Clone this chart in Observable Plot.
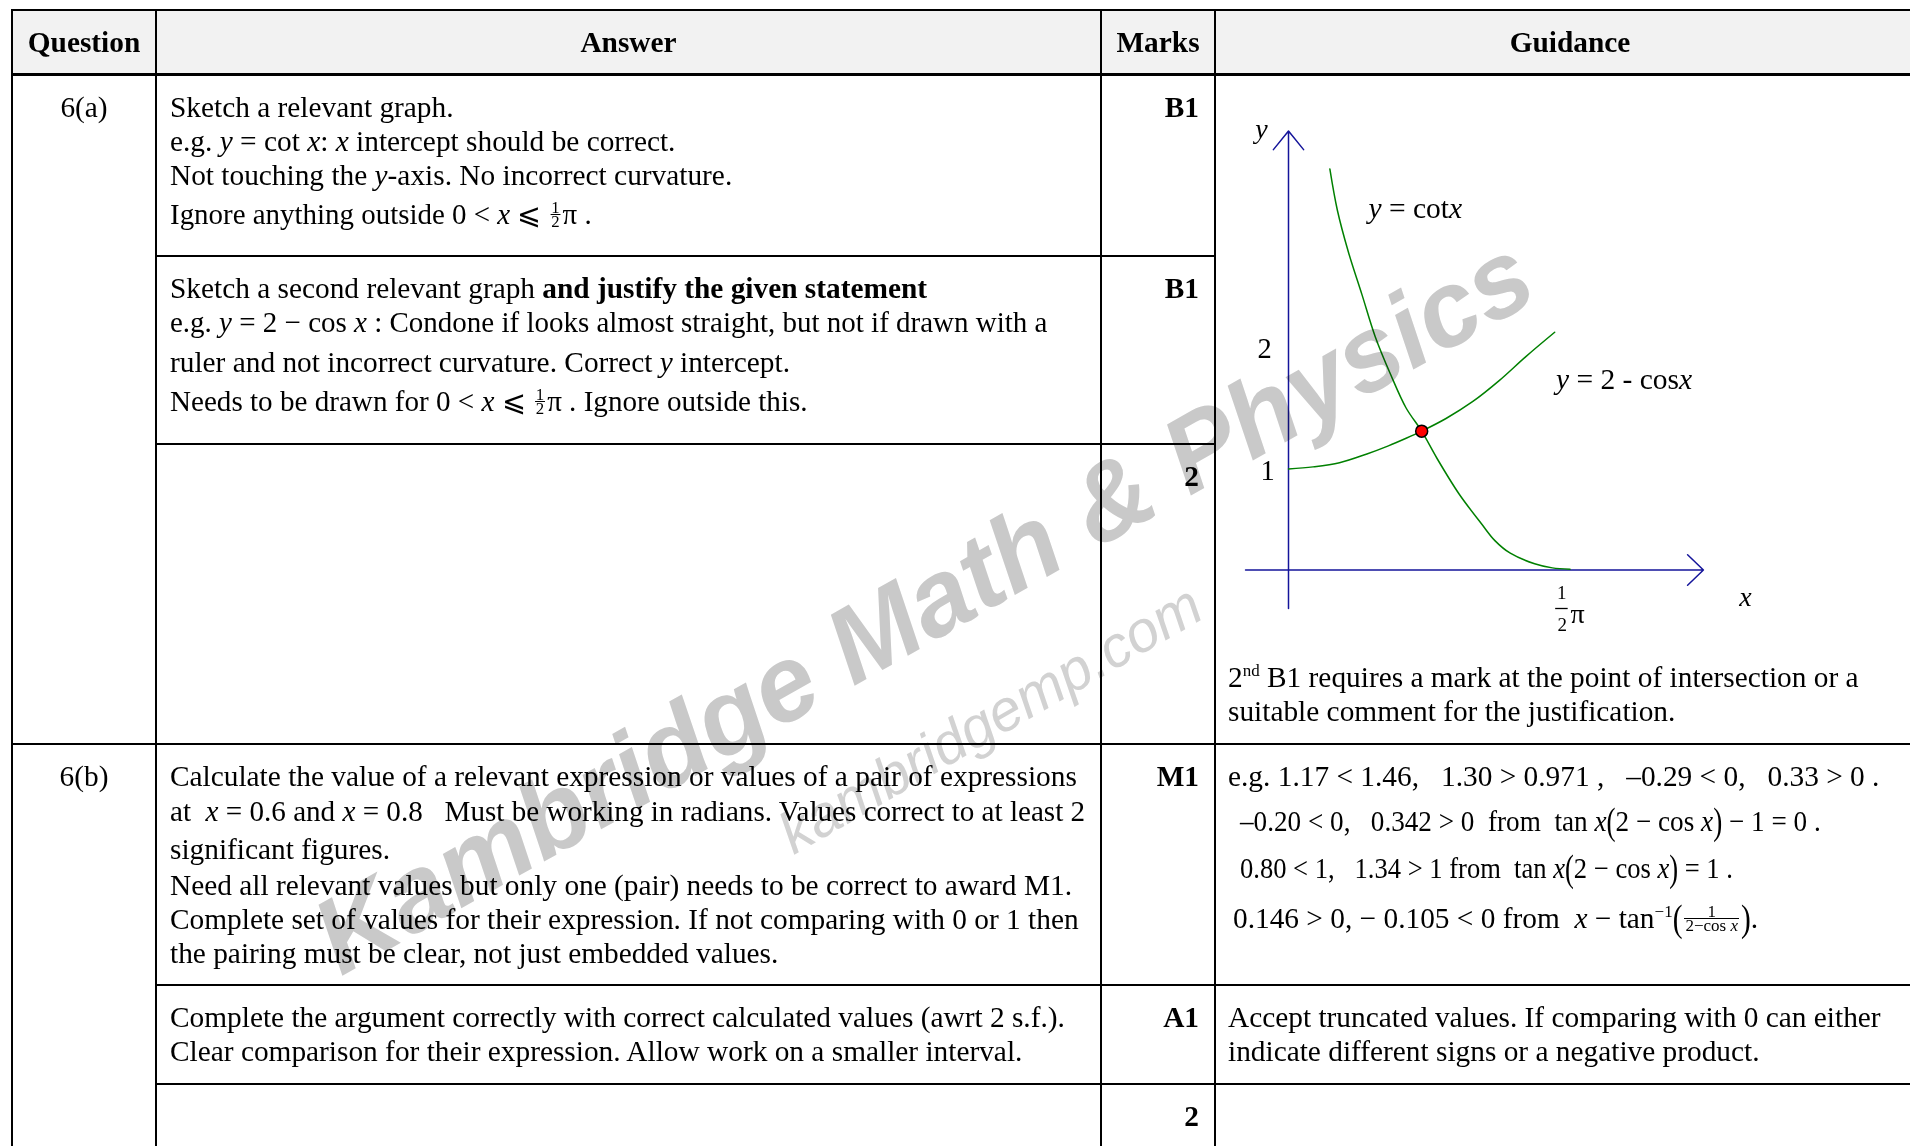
<!DOCTYPE html>
<html>
<head>
<meta charset="utf-8">
<script src="https://cdn.jsdelivr.net/npm/d3@7"></script>
<script src="https://cdn.jsdelivr.net/npm/@observablehq/plot@0.6"></script>
<style>
html,body{margin:0;padding:0;background:#fff;}
#page{position:relative;width:1910px;height:1146px;overflow:hidden;background:#fff;}
.hl{position:absolute;height:2px;background:#000;}
.vl{position:absolute;width:2px;background:#000;}
.t{position:absolute;font-family:"Liberation Serif","Times New Roman",serif;font-size:29.35px;line-height:33px;height:33px;white-space:pre;color:#000;}
.b{font-weight:bold;}
.r{text-align:right;}
.c{text-align:center;}
.fr{display:inline-block;vertical-align:middle;font-size:17px;line-height:13px;text-align:center;position:relative;top:-3px;margin:0 2px;}
.fr>span{display:block;padding:0 1px;}
.fr>span.n{border-bottom:1.3px solid #000;}
.bp{display:inline-block;transform:scale(1,1.3);}
.sq{transform-origin:0 50%;}
sup{font-size:17px;line-height:0;vertical-align:11px;}
#plotbox{position:absolute;left:1218px;top:77px;}
#wm{position:absolute;left:0;top:0;mix-blend-mode:multiply;pointer-events:none;}
</style>
</head>
<body>
<div id="page">
  <!-- header background -->
  <div style="position:absolute;left:12px;top:10px;width:1912px;height:64px;background:#f2f2f2;"></div>

  <!-- horizontal rules -->
  <div class="hl" style="left:12px;top:9px;width:1912px;height:1.5px;"></div>
  <div class="hl" style="left:12px;top:73px;width:1912px;height:3px;"></div>
  <div class="hl" style="left:156px;top:255px;width:1060px;"></div>
  <div class="hl" style="left:156px;top:443px;width:1060px;"></div>
  <div class="hl" style="left:12px;top:743px;width:1912px;"></div>
  <div class="hl" style="left:156px;top:984px;width:1768px;"></div>
  <div class="hl" style="left:156px;top:1083px;width:1768px;"></div>

  <!-- vertical rules -->
  <div class="vl" style="left:11px;top:9px;height:1140px;"></div>
  <div class="vl" style="left:155px;top:9px;height:1140px;"></div>
  <div class="vl" style="left:1100px;top:9px;height:1140px;"></div>
  <div class="vl" style="left:1214px;top:9px;height:1140px;"></div>

  <!-- header -->
  <div class="t b c" style="left:12px;width:144px;top:26px;">Question</div>
  <div class="t b c" style="left:156px;width:945px;top:26px;">Answer</div>
  <div class="t b c" style="left:1101px;width:114px;top:26px;">Marks</div>
  <div class="t b c" style="left:1216px;width:708px;top:26px;">Guidance</div>

  <!-- question column -->
  <div class="t c" style="left:12px;width:144px;top:91px;">6(a)</div>
  <div class="t c" style="left:12px;width:144px;top:760px;">6(b)</div>

  <!-- answer 6(a) row 1 -->
  <div class="t" style="left:170px;top:91px;">Sketch a relevant graph.</div>
  <div class="t" style="left:170px;top:125px;">e.g. <i>y</i> = cot <i>x</i>: <i>x</i> intercept should be correct.</div>
  <div class="t" style="left:170px;top:159px;">Not touching the <i>y</i>-axis. No incorrect curvature.</div>
  <div class="t sq" style="left:170px;top:198px;transform:scaleX(0.986);">Ignore anything outside 0 &lt; <i>x</i> ⩽ <span class="fr"><span class="n">1</span><span>2</span></span>π .</div>

  <!-- answer 6(a) row 2 -->
  <div class="t" style="left:170px;top:272px;">Sketch a second relevant graph <b>and justify the given statement</b></div>
  <div class="t sq" style="left:170px;top:306px;transform:scaleX(0.988);">e.g. <i>y</i> = 2 − cos <i>x</i> : Condone if looks almost straight, but not if drawn with a</div>
  <div class="t" style="left:170px;top:346px;">ruler and not incorrect curvature. Correct <i>y</i> intercept.</div>
  <div class="t sq" style="left:170px;top:385px;transform:scaleX(0.992);">Needs to be drawn for 0 &lt; <i>x</i> ⩽ <span class="fr"><span class="n">1</span><span>2</span></span>π . Ignore outside this.</div>

  <!-- answer 6(b) -->
  <div class="t" style="left:170px;top:760px;">Calculate the value of a relevant expression or values of a pair of expressions</div>
  <div class="t sq" style="left:170px;top:795px;transform:scaleX(0.992);">at  <i>x</i> = 0.6 and <i>x</i> = 0.8   Must be working in radians. Values correct to at least 2</div>
  <div class="t" style="left:170px;top:833px;">significant figures.</div>
  <div class="t" style="left:170px;top:869px;">Need all relevant values but only one (pair) needs to be correct to award M1.</div>
  <div class="t" style="left:170px;top:903px;">Complete set of values for their expression. If not comparing with 0 or 1 then</div>
  <div class="t" style="left:170px;top:937px;">the pairing must be clear, not just embedded values.</div>
  <div class="t" style="left:170px;top:1001px;">Complete the argument correctly with correct calculated values (awrt 2 s.f.).</div>
  <div class="t" style="left:170px;top:1035px;">Clear comparison for their expression. Allow work on a smaller interval.</div>

  <!-- marks -->
  <div class="t b r" style="left:1101px;width:98px;top:91px;">B1</div>
  <div class="t b r" style="left:1101px;width:98px;top:272px;">B1</div>
  <div class="t b r" style="left:1101px;width:98px;top:460px;">2</div>
  <div class="t b r" style="left:1101px;width:98px;top:760px;">M1</div>
  <div class="t b r" style="left:1101px;width:98px;top:1001px;">A1</div>
  <div class="t b r" style="left:1101px;width:98px;top:1100px;">2</div>

  <!-- guidance 6(a) caption -->
  <div class="t" style="left:1228px;top:661px;">2<sup>nd</sup> B1 requires a mark at the point of intersection or a</div>
  <div class="t" style="left:1228px;top:695px;">suitable comment for the justification.</div>

  <!-- guidance 6(b) -->
  <div class="t" style="left:1228px;top:760px;">e.g. 1.17 &lt; 1.46,   1.30 &gt; 0.971 ,   –0.29 &lt; 0,   0.33 &gt; 0 .</div>
  <div class="t sq" style="left:1240px;top:805px;transform:scaleX(0.926);">–0.20 &lt; 0,   0.342 &gt; 0  from  tan <i>x</i><span class="bp">(</span>2 − cos <i>x</i><span class="bp">)</span> − 1 = 0 .</div>
  <div class="t sq" style="left:1240px;top:852px;transform:scaleX(0.905);">0.80 &lt; 1,   1.34 &gt; 1 from  tan <i>x</i><span class="bp">(</span>2 − cos <i>x</i><span class="bp">)</span> = 1 .</div>
  <div class="t" style="left:1233px;top:902px;">0.146 &gt; 0, − 0.105 &lt; 0 from  <i>x</i> − tan<sup>−1</sup><span class="bp">(</span><span class="fr"><span class="n">1</span><span>2−cos <i>x</i></span></span><span class="bp">)</span>.</div>
  <div class="t" style="left:1228px;top:1001px;">Accept truncated values. If comparing with 0 can either</div>
  <div class="t" style="left:1228px;top:1035px;">indicate different signs or a negative product.</div>

  <div id="plotbox"></div>

  <svg id="wm" width="1910" height="1146">
    <text x="941" y="637" transform="rotate(-29.5 941 637)" text-anchor="middle" font-family="Liberation Sans, Arial, sans-serif" font-weight="bold" font-style="italic" font-size="107" fill="#c9c9c9">Kambridge Math &amp; Physics</text>
    <text x="1000" y="736" transform="rotate(-30 1000 736)" text-anchor="middle" font-family="Liberation Sans, Arial, sans-serif" font-style="italic" font-size="58" fill="#d2d2d2">kambridgemp.com</text>
  </svg>
</div>

<script>
// ---- sketch data (x in radians, y in sketch units) ----
const cotX = [0.231, 0.273, 0.335, 0.410, 0.484, 0.570, 0.657, 0.744, 0.830, 0.954, 1.078, 1.153, 1.239, 1.375, 1.474, 1.573];
const cotY = [3.971, 3.562, 3.146, 2.729, 2.313, 1.938, 1.604, 1.375, 1.104, 0.750, 0.458, 0.291, 0.166, 0.062, 0.021, 0.008];
const cosX = [0, 0.137, 0.285, 0.434, 0.558, 0.657, 0.744, 0.880, 1.028, 1.177, 1.326, 1.487];
const cosY = [1.000, 1.021, 1.062, 1.146, 1.229, 1.304, 1.375, 1.500, 1.666, 1.875, 2.113, 2.354];
const intersectX = [0.744];
const intersectY = [1.375];
const yTicks = [1, 2];
const yTickLabels = ["1", "2"];
const xTick = Math.PI / 2;          // the ½π mark on the x-axis
const xAxisExtent = [-0.24, 2.318];  // x-axis drawn from … to (arrow tip)
const yAxisExtent = [-0.381, 4.347]; // y-axis drawn from … to (arrow tip)
const curveLabels = ["y = cotx", "y = 2 - cosx"];
const curveLabelX = [0.447, 1.494];
const curveLabelY = [3.583, 1.887];

const AXIS = "#14149a";
const GREEN = "#008000";
const FONT = "Liberation Serif, Times New Roman, serif";

const cotData = cotX.map((x, i) => ({x, y: cotY[i]}));
const cosData = cosX.map((x, i) => ({x, y: cosY[i]}));
const dotData = intersectX.map((x, i) => ({x, y: intersectY[i]}));
const labelData = curveLabels.map((t, i) => ({t, x: curveLabelX[i], y: curveLabelY[i]}));

const plot = Plot.plot({
  width: 690,
  height: 575,
  marginTop: 0, marginRight: 0, marginBottom: 0, marginLeft: 0,
  x: {domain: [0, 1], range: [70, 249], axis: null},
  y: {domain: [0, 1], range: [492.5, 391.5], axis: null},
  style: {background: "transparent", overflow: "visible"},
  marks: [
    Plot.arrow([{x1: xAxisExtent[0], y1: 0, x2: xAxisExtent[1], y2: 0}],
      {x1: "x1", y1: "y1", x2: "x2", y2: "y2", stroke: AXIS, strokeWidth: 1.5, headAngle: 88, headLength: 22}),
    Plot.arrow([{x1: 0, y1: yAxisExtent[0], x2: 0, y2: yAxisExtent[1]}],
      {x1: "x1", y1: "y1", x2: "x2", y2: "y2", stroke: AXIS, strokeWidth: 1.5, headAngle: 78, headLength: 24}),
    Plot.line(cotData, {x: "x", y: "y", stroke: GREEN, strokeWidth: 1.5, curve: "catmull-rom"}),
    Plot.line(cosData, {x: "x", y: "y", stroke: GREEN, strokeWidth: 1.5, curve: "catmull-rom"}),
    Plot.dot(dotData, {x: "x", y: "y", r: 6, fill: "#ff0000", stroke: "#000", strokeWidth: 1.5}),
    // axis names
    Plot.text([{t: "y", y: yAxisExtent[1]}], {x: () => 0, y: "y", text: "t", dx: -27, dy: -2, fontStyle: "italic", fontSize: 28, fontFamily: FONT, fill: "#000"}),
    Plot.text([{t: "x", x: xAxisExtent[1]}], {x: "x", y: () => 0, text: "t", dx: 42, dy: 27, fontStyle: "italic", fontSize: 28, fontFamily: FONT, fill: "#000"}),
    // y tick labels
    Plot.text([{t: yTickLabels[0], y: yTicks[0]}], {x: () => 0, y: "y", text: "t", dx: -21, dy: 2, fontSize: 28.5, fontFamily: FONT, fill: "#000"}),
    Plot.text([{t: yTickLabels[1], y: yTicks[1]}], {x: () => 0, y: "y", text: "t", dx: -24, dy: -19, fontSize: 28.5, fontFamily: FONT, fill: "#000"}),
    // ½π tick label
    Plot.text([{t: "1", x: xTick}], {x: "x", y: () => 0, text: "t", dx: -8, dy: 23, fontSize: 19, fontFamily: FONT, fill: "#000"}),
    Plot.text([{t: "2", x: xTick}], {x: "x", y: () => 0, text: "t", dx: -7.5, dy: 55, fontSize: 19, fontFamily: FONT, fill: "#000"}),
    Plot.text([{t: "π", x: xTick}], {x: "x", y: () => 0, text: "t", dx: 8, dy: 44, fontSize: 28, fontFamily: FONT, fill: "#000"}),
    // curve labels
    Plot.text(labelData, {x: "x", y: "y", text: "t", textAnchor: "start", fontSize: 29.5, fontFamily: FONT, fill: "#000"})
  ]
});

// fraction bar of ½π, placed through the x and y scales
const sx = plot.scale("x"), sy = plot.scale("y");
const px = sx.apply(xTick), py = sy.apply(0);
d3.select(plot).append("line")
  .attr("x1", px - 14).attr("x2", px - 1.5)
  .attr("y1", py + 39).attr("y2", py + 39)
  .attr("stroke", "#000").attr("stroke-width", 1.3);

// italic variables inside the curve labels
d3.select(plot).selectAll("text").each(function () {
  const t = this.textContent;
  const m = t.match(/^y( = .*)x$/);
  if (m && curveLabels.includes(t)) {
    const sel = d3.select(this);
    sel.text(null);
    sel.append("tspan").attr("font-style", "italic").text("y");
    sel.append("tspan").text(m[1]);
    sel.append("tspan").attr("font-style", "italic").text("x");
  }
});

document.getElementById("plotbox").appendChild(plot);
</script>
</body>
</html>
